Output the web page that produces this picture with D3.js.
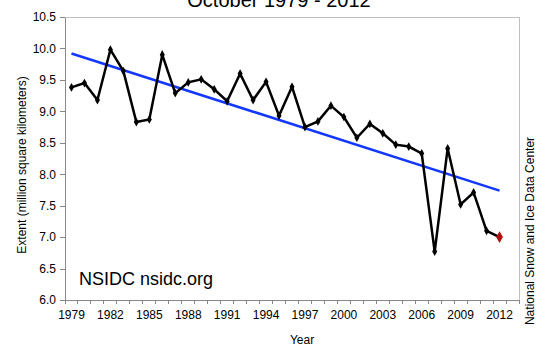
<!DOCTYPE html>
<html>
<head>
<meta charset="utf-8">
<script src="https://cdn.jsdelivr.net/npm/d3@7"></script>
<style>
  html, body { margin: 0; padding: 0; background: #fff; }
  svg { display: block; font-family: "Liberation Sans", Arial, sans-serif; }
</style>
</head>
<body>
<svg id="chart" width="537" height="346"></svg>
<script>
// October Arctic sea ice extent, million square kilometers
const years = [1979,1980,1981,1982,1983,1984,1985,1986,1987,1988,1989,1990,1991,1992,1993,1994,1995,1996,1997,1998,1999,2000,2001,2002,2003,2004,2005,2006,2007,2008,2009,2010,2011,2012];
const extent = [9.38,9.45,9.18,9.98,9.64,8.83,8.87,9.90,9.29,9.46,9.51,9.35,9.16,9.60,9.18,9.47,8.93,9.39,8.75,8.84,9.09,8.91,8.58,8.80,8.65,8.47,8.44,8.33,6.77,8.41,7.52,7.71,7.10,7.00];
// linear trend at first and last year
const trendYears = [1979, 2012];
const trendValues = [9.92, 7.74];
const yTicks = [6.0,6.5,7.0,7.5,8.0,8.5,9.0,9.5,10.0,10.5];
const xLabelYears = [1979,1982,1985,1988,1991,1994,1997,2000,2003,2006,2009,2012];
// category axis runs one slot past the last year
const slots = d3.range(1979, 2014);

const svg = d3.select("#chart");
const plotL = 65, plotR = 519, plotT = 17, plotB = 300;

const x = d3.scaleBand().domain(slots).range([plotL, plotR]);
const xc = v => x(v) + x.bandwidth() / 2;
const y = d3.scaleLinear().domain([6, 10.5]).range([plotB, plotT]);

// plot frame (top and right)
svg.append("path")
  .attr("d", `M${plotL},${plotT}H${plotR}V${plotB}`)
  .attr("fill", "none").attr("stroke", "#c0c0c0").attr("stroke-width", 1)
  .attr("shape-rendering", "crispEdges");

// y axis
const yAxis = svg.append("g").attr("transform", `translate(${plotL},0)`)
  .call(d3.axisLeft(y).tickValues(yTicks).tickFormat(d3.format(".1f")).tickSize(5).tickPadding(4).tickSizeOuter(0));
yAxis.select(".domain").attr("stroke", "#888").attr("shape-rendering", "crispEdges");
yAxis.selectAll(".tick line").attr("stroke", "#888").attr("shape-rendering", "crispEdges");
yAxis.selectAll(".tick text").attr("font-size", 12).attr("fill", "#000")
  .attr("font-family", "Liberation Sans, Arial, sans-serif");

// x axis: ticks at category boundaries, labels every third year
const xAxisG = svg.append("g").attr("transform", `translate(0,${plotB})`);
xAxisG.append("line").attr("x1", plotL).attr("x2", plotR).attr("y1", 0).attr("y2", 0)
  .attr("stroke", "#888").attr("shape-rendering", "crispEdges");
xAxisG.selectAll("line.tk").data(slots.concat([2014])).join("line").attr("class", "tk")
  .attr("x1", d => d === 2014 ? plotR : x(d)).attr("x2", d => d === 2014 ? plotR : x(d))
  .attr("y1", 0).attr("y2", 4)
  .attr("stroke", "#888").attr("shape-rendering", "crispEdges");
xAxisG.selectAll("text").data(xLabelYears).join("text")
  .attr("x", d => xc(d)).attr("y", 19)
  .attr("text-anchor", "middle").attr("font-size", 12).text(d => d);

// trend line
svg.append("line")
  .attr("x1", xc(trendYears[0])).attr("y1", y(trendValues[0]))
  .attr("x2", xc(trendYears[1])).attr("y2", y(trendValues[1]))
  .attr("stroke", "#1238ff").attr("stroke-width", 2.5);

// extent series
const pts = years.map((yr, i) => ({ yr, v: extent[i] }));
svg.append("path")
  .datum(pts)
  .attr("d", d3.line().x(d => xc(d.yr)).y(d => y(d.v)))
  .attr("fill", "none").attr("stroke", "#000").attr("stroke-width", 2.5)
  .attr("stroke-linejoin", "miter");

const diamond = d3.symbol().type(d3.symbolDiamond);
svg.selectAll("path.mk").data(pts.slice(0, -1)).join("path").attr("class", "mk")
  .attr("transform", d => `translate(${xc(d.yr)},${y(d.v)})`)
  .attr("d", diamond.size(22)()).attr("fill", "#000");
const last = pts[pts.length - 1];
svg.append("path")
  .attr("transform", `translate(${xc(last.yr)},${y(last.v)})`)
  .attr("d", d3.symbol().type(d3.symbolDiamond).size(40)()).attr("fill", "#b01010");

// texts
svg.append("text").attr("x", 279).attr("y", 7).attr("text-anchor", "middle")
  .attr("font-size", 20).text("October 1979 - 2012");
svg.append("text").attr("x", 79).attr("y", 285).attr("font-size", 18).text("NSIDC nsidc.org");
svg.append("text").attr("x", 302).attr("y", 344).attr("text-anchor", "middle")
  .attr("font-size", 12).text("Year");
svg.append("text").attr("transform", "translate(26,165) rotate(-90)")
  .attr("text-anchor", "middle").attr("font-size", 12).text("Extent (million square kilometers)");
svg.append("text").attr("transform", "translate(534,231) rotate(-90)")
  .attr("text-anchor", "middle").attr("font-size", 12).text("National Snow and Ice Data Center");
</script>
</body>
</html>
